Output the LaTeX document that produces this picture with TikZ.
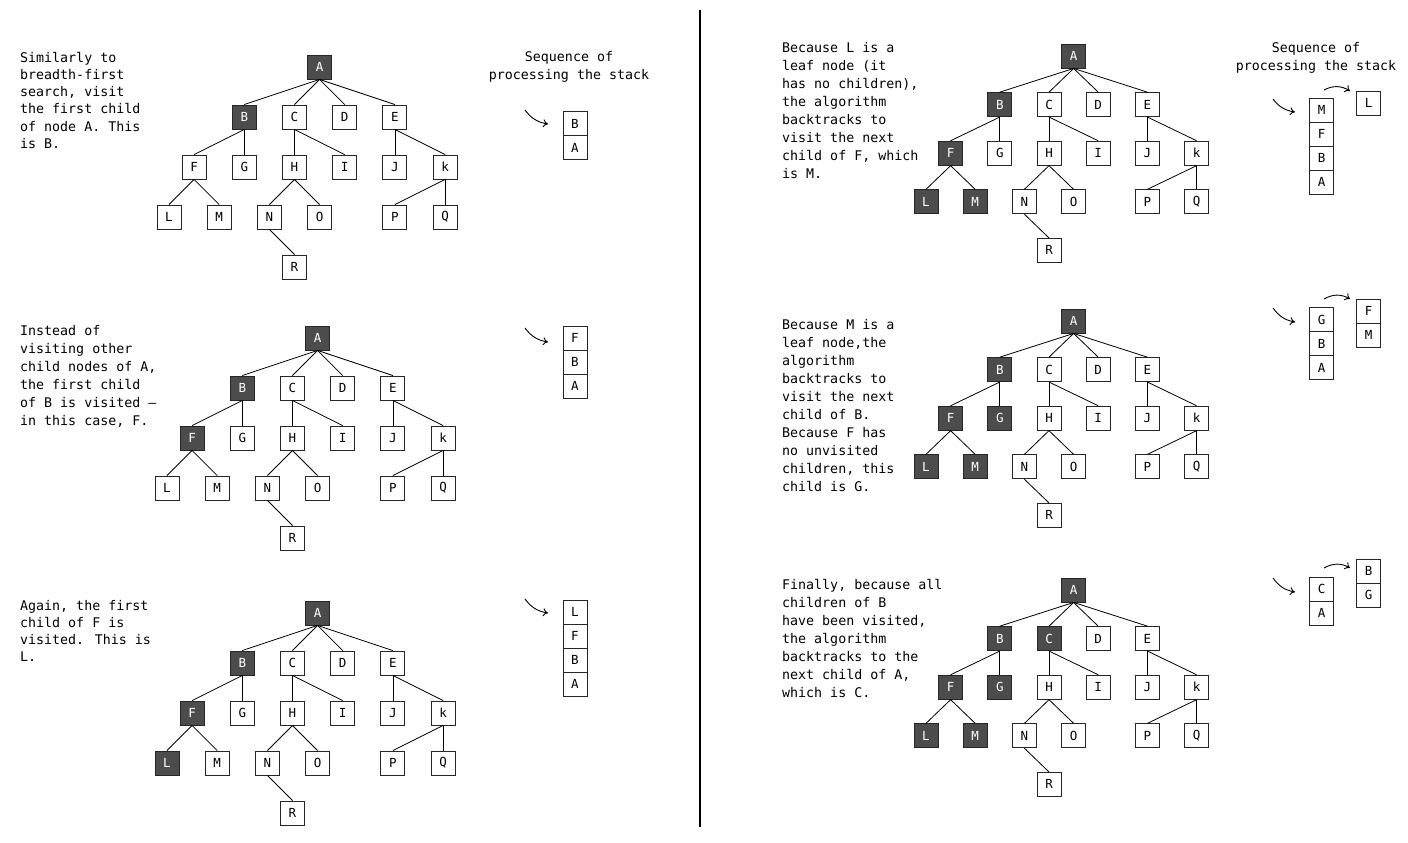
\documentclass[tikz,border=0pt]{standalone}
\usepackage{fontspec}
\newfontfamily\handfont{DejaVu Sans Mono}
\usetikzlibrary{positioning,arrows.meta}

\tikzstyle{tnode}=[rectangle,
    draw=black!85,
    line width=0.9pt,
    minimum size=24pt,
    inner sep=0pt,
    fill=white,
    font=\handfont\fontsize{12.5}{13}\selectfont]
\tikzstyle{dark}=[fill=black!70, text=white]
\tikzstyle{cell}=[tnode]
\tikzstyle{edge}=[line width=0.8pt]
\tikzstyle{note}=[align=left, inner sep=0pt, anchor=north west,
    font=\handfont\fontsize{13.3}{18}\selectfont]
\tikzstyle{note tight}=[note, font=\handfont\fontsize{13.3}{17.2}\selectfont]
\tikzstyle{title}=[align=center, inner sep=0pt,
    font=\handfont\fontsize{13.3}{18}\selectfont]
\tikzstyle{push}=[-{To[length=5pt,width=8pt]}, line width=0.9pt, bend right=22]
\tikzstyle{pop}=[-{To[length=5pt,width=8pt]}, line width=0.9pt, bend left=30]
\tikzset{visit/.style={n#1/.style=dark}}

% one copy of the tree, #1 = prefix of the node names
\newcommand{\dfstree}[1]{%
  \foreach \nm/\lbl/\cx/\ry in {A/A/6/0,B/B/3/1,C/C/5/1,D/D/7/1,E/E/9/1,
      F/F/1/2,G/G/3/2,H/H/5/2,I/I/7/2,J/J/9/2,K/k/11/2,
      L/L/0/3,M/M/2/3,N/N/4/3,O/O/6/3,P/P/9/3,Q/Q/11/3,R/R/5/4}
    \node[tnode, n\nm/.try] (#1\nm) at (\cx,\ry) {\lbl};
  \foreach \pa/\ch in {A/B,A/C,A/D,A/E,B/F,B/G,C/H,C/I,E/J,E/K,
      F/L,F/M,H/N,H/O,K/P,K/Q,N/R}
    \draw[edge] (#1\pa.south) -- (#1\ch.north);
}

\begin{document}
\begin{tikzpicture}[x=1pt, y=-1pt]
    \useasboundingbox (0,0) rectangle (1408,843);

    % left half
    \node[note tight] (t1) at (20,52) {Similarly to\\breadth-first\\search, visit\\the first child\\of node A. This\\is B.};
    \node[note] (t2) at (20,325) {Instead of\\visiting other\\child nodes of A,\\the first child\\of B is visited —\\in this case, F.};
    \node[note tight] (t3) at (20,600) {Again, the first\\child of F is\\visited. This is\\L.};

    \begin{scope}[shift={(169,67)}, x=25.1pt, y=-50pt, visit/.list={A,B}]
        \dfstree{a}
    \end{scope}
    \begin{scope}[shift={(167,338)}, x=25.1pt, y=-50pt, visit/.list={A,B,F}]
        \dfstree{b}
    \end{scope}
    \begin{scope}[shift={(167,613)}, x=25.1pt, y=-50pt, visit/.list={A,B,F,L}]
        \dfstree{c}
    \end{scope}

    \node[title] (head1) at (569,67) {Sequence of\\processing the stack};

    \node[cell] (s1B) at (575,123.5) {B};
    \node[cell, below=-0.9pt of s1B] (s1A) {A};
    \coordinate (in1) at (525,110);
    \coordinate (in1e) at (548,124);
    \draw[push] (in1) to (in1e);

    \node[cell] (s2F) at (575,338) {F};
    \node[cell, below=-0.9pt of s2F] (s2B) {B};
    \node[cell, below=-0.9pt of s2B] (s2A) {A};
    \coordinate (in2) at (525,328);
    \coordinate (in2e) at (548,342);
    \draw[push] (in2) to (in2e);

    \node[cell] (s3L) at (575,612) {L};
    \node[cell, below=-0.9pt of s3L] (s3F) {F};
    \node[cell, below=-0.9pt of s3F] (s3B) {B};
    \node[cell, below=-0.9pt of s3B] (s3A) {A};
    \coordinate (in3) at (525,599);
    \coordinate (in3e) at (548,613);
    \draw[push] (in3) to (in3e);

    % divider
    \draw[line width=1.8pt] (700,10) -- (700,827);

    % right half
    \node[note] (t4) at (782,42) {Because L is a\\leaf node (it\\has no children),\\the algorithm\\backtracks to\\visit the next\\child of F, which\\is M.};
    \node[note] (t5) at (782,319) {Because M is a\\leaf node,the\\algorithm\\backtracks to\\visit the next\\child of B.\\Because F has\\no unvisited\\children, this\\child is G.};
    \node[note] (t6) at (782,579) {Finally, because all\\children of B\\have been visited,\\the algorithm\\backtracks to the\\next child of A,\\which is C.};

    \begin{scope}[shift={(926,56)}, x=24.6pt, y=-48.6pt, visit/.list={A,B,F,L,M}]
        \dfstree{d}
    \end{scope}
    \begin{scope}[shift={(926,321)}, x=24.6pt, y=-48.6pt, visit/.list={A,B,F,G,L,M}]
        \dfstree{e}
    \end{scope}
    \begin{scope}[shift={(926,590)}, x=24.6pt, y=-48.6pt, visit/.list={A,B,C,F,G,L,M}]
        \dfstree{f}
    \end{scope}

    \node[title] (head2) at (1316,58) {Sequence of\\processing the stack};

    \node[cell] (s4M) at (1321.5,110) {M};
    \node[cell, below=-0.9pt of s4M] (s4F) {F};
    \node[cell, below=-0.9pt of s4F] (s4B) {B};
    \node[cell, below=-0.9pt of s4B] (s4A) {A};
    \node[cell] (o4L) at (1368.5,103) {L};
    \coordinate (in4) at (1273,99);
    \coordinate (in4e) at (1295,112);
    \draw[push] (in4) to (in4e);
    \coordinate (out4) at (1324,90);
    \coordinate (out4e) at (1350,91);
    \draw[pop] (out4) to (out4e);

    \node[cell] (s5G) at (1321.5,319.5) {G};
    \node[cell, below=-0.9pt of s5G] (s5B) {B};
    \node[cell, below=-0.9pt of s5B] (s5A) {A};
    \node[cell] (o5F) at (1368.5,311) {F};
    \node[cell, below=-0.9pt of o5F] (o5M) {M};
    \coordinate (in5) at (1273,308);
    \coordinate (in5e) at (1295,322);
    \draw[push] (in5) to (in5e);
    \coordinate (out5) at (1324,299);
    \coordinate (out5e) at (1350,299);
    \draw[pop] (out5) to (out5e);

    \node[cell] (s6C) at (1321.5,589) {C};
    \node[cell, below=-0.9pt of s6C] (s6A) {A};
    \node[cell] (o6B) at (1368.5,571) {B};
    \node[cell, below=-0.9pt of o6B] (o6G) {G};
    \coordinate (in6) at (1273,578);
    \coordinate (in6e) at (1295,592);
    \draw[push] (in6) to (in6e);
    \coordinate (out6) at (1324,568);
    \coordinate (out6e) at (1350,568);
    \draw[pop] (out6) to (out6e);
\end{tikzpicture}
\end{document}
